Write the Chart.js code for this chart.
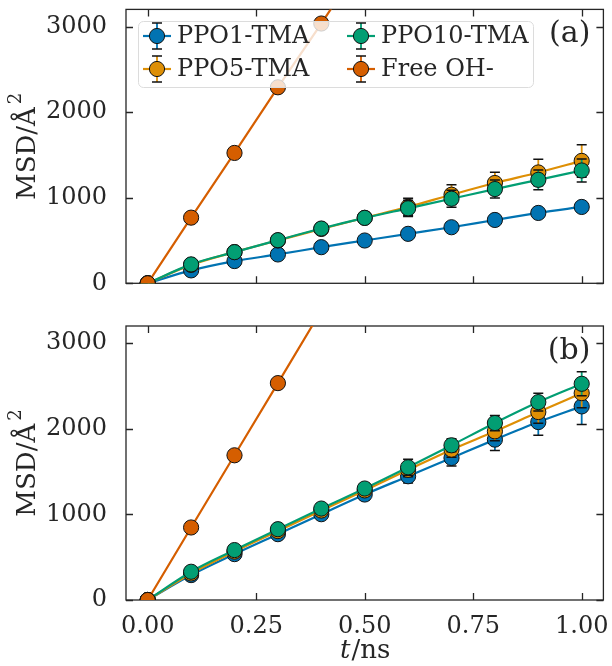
<!DOCTYPE html>
<html lang="en">
<head>
<meta charset="UTF-8">
<title>MSD</title>
<script src="https://cdn.jsdelivr.net/npm/chart.js"></script>
<style>
    body { margin: 0; background: white; }
    .wrap { position: relative; width: 612px; height: 666px; }
    canvas { position: absolute; left: 0; }
    #chartA { top: 0; }
    #chartB { top: 310px; }
</style>
</head>
<body>
<div class="wrap">
    <canvas id="chartA" width="612" height="310"></canvas>
    <canvas id="chartB" width="612" height="356"></canvas>
</div>
<script>
// time axis (ns)
const times = [0, 0.1, 0.2, 0.3, 0.4, 0.5, 0.6, 0.7, 0.8, 0.9, 1.0];
const xTicks = [0, 0.25, 0.5, 0.75, 1.0];
const yTicks = [0, 1000, 2000, 3000];

const seriesNames = ['PPO1-TMA', 'PPO5-TMA', 'PPO10-TMA', 'Free OH-'];
const seriesColors = ['#0173b2', '#de8f05', '#029e73', '#d55e00'];

// panel (a)
const msdA_ppo1 = [0, 151, 260, 337, 422, 500, 578, 655, 740, 822, 892];
const msdA_ppo5 = [0, 215, 365, 500, 635, 765, 893, 1035, 1172, 1295, 1430];
const msdA_ppo10 = [0, 221, 364, 504, 640, 764, 876, 988, 1101, 1209, 1318];
const msdA_free = [0, 767, 1523, 2290, 3035, 3800, 4560, 5320, 6080, 6840, 7600];
const errA_ppo1 = [0, 8, 12, 15, 18, 20, 24, 28, 32, 36, 40];
const errA_ppo5 = [0, 15, 25, 35, 45, 60, 100, 115, 125, 155, 190];
const errA_ppo10 = [0, 12, 20, 30, 40, 55, 95, 100, 105, 115, 135];
const errA_free = [0, 10, 15, 20, 25, 30, 35, 40, 45, 50, 55];

// panel (b)
const msdB_ppo1 = [0, 291, 536, 769, 1002, 1232, 1445, 1659, 1873, 2078, 2261];
const msdB_ppo5 = [0, 310, 565, 805, 1045, 1280, 1520, 1756, 1970, 2195, 2416];
const msdB_ppo10 = [0, 330, 583, 827, 1068, 1302, 1550, 1807, 2067, 2311, 2525];
const msdB_free = [0, 847, 1690, 2533, 3380, 4220, 5065, 5910, 6755, 7600, 8445];
const errB_ppo1 = [0, 15, 25, 35, 45, 60, 78, 93, 128, 155, 210];
const errB_ppo5 = [0, 15, 25, 35, 45, 60, 80, 90, 110, 130, 170];
const errB_ppo10 = [0, 15, 25, 35, 45, 60, 93, 77, 89, 105, 140];
const errB_free = [0, 10, 15, 20, 25, 30, 35, 40, 45, 50, 55];

const INK = '#262626';
const FONT = 'DejaVu Serif';
Chart.defaults.font.family = FONT;
Chart.defaults.color = INK;

function pts(arr) {
    return times.map((t, i) => ({ x: t, y: arr[i] }));
}

function makeSets(vals, errs) {
    return vals.map((v, k) => ({
        label: seriesNames[k],
        data: pts(v),
        err: errs[k],
        borderColor: seriesColors[k],
        backgroundColor: seriesColors[k],
        pointBackgroundColor: seriesColors[k],
        pointBorderColor: '#111',
        pointBorderWidth: 1,
        pointRadius: 7.6,
        borderWidth: 2.2,
        cubicInterpolationMode: k < 3 ? 'monotone' : 'default',
        order: 4 - k,
        clip: 0
    }));
}

function noPad(s) {
    s.paddingLeft = 0;
    s.paddingRight = 0;
    s.paddingTop = 0;
    s.paddingBottom = 0;
}

// error bars drawn just before each dataset
const errBars = {
    id: 'errBars',
    beforeDatasetDraw(chart, args) {
        const ds = chart.data.datasets[args.index];
        if (!ds.err) return;
        const xs = chart.scales.x, ys = chart.scales.y, ctx = chart.ctx, a = chart.chartArea;
        ctx.save();
        ctx.beginPath();
        ctx.rect(a.left, a.top, a.right - a.left, a.bottom - a.top);
        ctx.clip();
        ds.data.forEach((p, i) => {
            const e = ds.err[i];
            if (!e) return;
            const px = xs.getPixelForValue(p.x);
            const yHi = ys.getPixelForValue(p.y + e);
            const yLo = ys.getPixelForValue(p.y - e);
            ctx.strokeStyle = ds.borderColor;
            ctx.lineWidth = 1.8;
            ctx.beginPath();
            ctx.moveTo(px, yLo);
            ctx.lineTo(px, yHi);
            ctx.stroke();
            ctx.strokeStyle = '#111';
            ctx.lineWidth = 1.5;
            ctx.beginPath();
            ctx.moveTo(px - 5, yLo); ctx.lineTo(px + 5, yLo);
            ctx.moveTo(px - 5, yHi); ctx.lineTo(px + 5, yHi);
            ctx.stroke();
        });
        ctx.restore();
    }
};

// box and inward ticks
const frame = {
    id: 'frame',
    beforeDatasetsDraw(chart) {
        const ctx = chart.ctx, a = chart.chartArea;
        const xs = chart.scales.x, ys = chart.scales.y;
        const tl = 7;
        ctx.save();
        ctx.strokeStyle = INK;
        ctx.lineWidth = 1.3;
        ctx.strokeRect(a.left, a.top, a.right - a.left, a.bottom - a.top);
        ctx.beginPath();
        xTicks.forEach(v => {
            const px = Math.round(xs.getPixelForValue(v)) + 0.5;
            ctx.moveTo(px, a.bottom); ctx.lineTo(px, a.bottom - tl);
            ctx.moveTo(px, a.top); ctx.lineTo(px, a.top + tl);
        });
        yTicks.forEach(v => {
            const py = Math.round(ys.getPixelForValue(v)) + 0.5;
            ctx.moveTo(a.left, py); ctx.lineTo(a.left + tl, py);
            ctx.moveTo(a.right, py); ctx.lineTo(a.right - tl, py);
        });
        ctx.stroke();
        ctx.restore();
    }
};

// axis titles and panel tag
const labels = {
    id: 'labels',
    afterDraw(chart, args, opts) {
        const ctx = chart.ctx, a = chart.chartArea;
        ctx.save();
        ctx.fillStyle = INK;
        // panel tag
        ctx.font = '30px ' + FONT;
        ctx.textAlign = 'right';
        ctx.textBaseline = 'middle';
        ctx.fillText(opts.tag, a.right - 13, a.top + 25);
        // y title: MSD/Å²
        ctx.translate(28, (a.top + a.bottom) / 2);
        ctx.rotate(-Math.PI / 2);
        ctx.font = '26px ' + FONT;
        const main = 'MSD/Å';
        const w1 = ctx.measureText(main).width;
        ctx.font = '18px ' + FONT;
        const w2 = ctx.measureText('2').width;
        const start = -(w1 + w2 + 3) / 2;
        ctx.textAlign = 'left';
        ctx.textBaseline = 'middle';
        ctx.font = '26px ' + FONT;
        ctx.fillText(main, start, 0);
        ctx.font = '18px ' + FONT;
        ctx.fillText('2', start + w1 + 3, -12);
        ctx.restore();
        if (opts.xTitle) {
            ctx.save();
            ctx.fillStyle = INK;
            ctx.textBaseline = 'middle';
            ctx.textAlign = 'left';
            ctx.font = 'italic 26px ' + FONT;
            const wt = ctx.measureText('t').width;
            ctx.font = '26px ' + FONT;
            const wr = ctx.measureText('/ns').width;
            const cx = (a.left + a.right) / 2 - (wt + wr) / 2;
            ctx.font = 'italic 26px ' + FONT;
            ctx.fillText('t', cx, opts.xTitleY);
            ctx.font = '26px ' + FONT;
            ctx.fillText('/ns', cx + wt + 1, opts.xTitleY);
            ctx.restore();
        }
    }
};

// legend box with errorbar handles
const legendBox = {
    id: 'legendBox',
    afterDatasetsDraw(chart, args, opts) {
        if (!opts.show) return;
        const ctx = chart.ctx;
        ctx.save();
        ctx.beginPath();
        ctx.roundRect(138.5, 21.5, 395, 66, 5);
        ctx.fillStyle = 'rgba(255,255,255,0.8)';
        ctx.fill();
        ctx.strokeStyle = '#dcdcdc';
        ctx.lineWidth = 1;
        ctx.stroke();
        const cols = [157, 361], rows = [36, 69];
        const place = [[0, 0], [0, 1], [1, 0], [1, 1]];
        seriesNames.forEach((name, k) => {
            const mx = cols[place[k][0]], my = rows[place[k][1]];
            const c = seriesColors[k];
            ctx.strokeStyle = c;
            ctx.lineWidth = 2.2;
            ctx.beginPath();
            ctx.moveTo(mx - 14, my); ctx.lineTo(mx + 14, my);
            ctx.stroke();
            ctx.lineWidth = 1.8;
            ctx.beginPath();
            ctx.moveTo(mx, my - 13); ctx.lineTo(mx, my + 13);
            ctx.stroke();
            ctx.strokeStyle = '#111';
            ctx.lineWidth = 1.5;
            ctx.beginPath();
            ctx.moveTo(mx - 5, my - 13); ctx.lineTo(mx + 5, my - 13);
            ctx.moveTo(mx - 5, my + 13); ctx.lineTo(mx + 5, my + 13);
            ctx.stroke();
            ctx.beginPath();
            ctx.arc(mx, my, 7.6, 0, Math.PI * 2);
            ctx.fillStyle = c;
            ctx.fill();
            ctx.lineWidth = 1;
            ctx.stroke();
            ctx.fillStyle = INK;
            ctx.font = '24px ' + FONT;
            ctx.textAlign = 'left';
            ctx.textBaseline = 'middle';
            ctx.fillText(name, mx + 20, my + 1);
        });
        ctx.restore();
    }
};

function makeChart(id, vals, errs, cfg) {
    return new Chart(document.getElementById(id), {
        type: 'line',
        data: { datasets: makeSets(vals, errs) },
        options: {
            responsive: false,
            animation: false,
            devicePixelRatio: 1,
            layout: { padding: { top: cfg.top, left: 0, right: 0, bottom: 0 } },
            plugins: {
                legend: { display: false },
                tooltip: { enabled: false },
                labels: { tag: cfg.tag, xTitle: cfg.xTitle, xTitleY: cfg.xTitleY },
                legendBox: { show: cfg.legend }
            },
            scales: {
                x: {
                    type: 'linear',
                    min: -0.05,
                    max: 1.05,
                    grid: { display: false },
                    border: { display: false },
                    afterBuildTicks: s => { s.ticks = xTicks.map(v => ({ value: v })); },
                    afterFit: s => { s.height = cfg.xHeight; noPad(s); },
                    ticks: {
                        display: cfg.xLabels,
                        padding: 4,
                        maxRotation: 0,
                        font: { size: 24 },
                        color: INK,
                        callback: v => v.toFixed(2)
                    }
                },
                y: {
                    min: 0,
                    max: 3200,
                    grid: { display: false },
                    border: { display: false },
                    afterBuildTicks: s => { s.ticks = yTicks.map(v => ({ value: v })); },
                    afterFit: s => { s.width = 126; noPad(s); },
                    ticks: { padding: 11, font: { size: 24 }, color: INK, callback: v => String(v) }
                }
            }
        },
        plugins: [frame, errBars, legendBox, labels]
    });
}

makeChart('chartA',
    [msdA_ppo1, msdA_ppo5, msdA_ppo10, msdA_free],
    [errA_ppo1, errA_ppo5, errA_ppo10, errA_free],
    { top: 9.4, xHeight: 26.7, xLabels: false, tag: '(a)', legend: true, xTitle: false });

makeChart('chartB',
    [msdB_ppo1, msdB_ppo5, msdB_ppo10, msdB_free],
    [errB_ppo1, errB_ppo5, errB_ppo10, errB_free],
    { top: 16, xHeight: 66, xLabels: true, tag: '(b)', legend: false, xTitle: true, xTitleY: 341 });
</script>
</body>
</html>
